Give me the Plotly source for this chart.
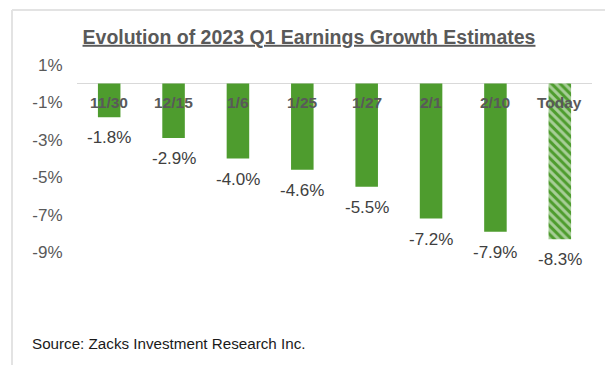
import plotly.graph_objects as go

categories = ["11/30", "12/15", "1/6", "1/25", "1/27", "2/1", "2/10", "Today"]
growth = [-1.8, -2.9, -4.0, -4.6, -5.5, -7.2, -7.9, -8.3]
value_labels = ["-1.8%", "-2.9%", "-4.0%", "-4.6%", "-5.5%", "-7.2%", "-7.9%", "-8.3%"]
tick_vals = [1, -1, -3, -5, -7, -9]
tick_text = ["1%", "-1%", "-3%", "-5%", "-7%", "-9%"]

GREEN = "#4E9C2E"
OFF = 8  # page body margin in the browser
W, H = 613 - OFF, 372 - OFF
# plot area in page pixels: x 77..592, y 46..271
L, R = 77 - OFF, 613 - 592
T, B = 46 - OFF, 372 - 271
PW, PH = 592 - 77, 271 - 46


def px_x(x):
    return (x - 77) / PW


def px_y(y):
    return (271 - y) / PH


shapes_pattern = ["" for _ in categories[:-1]] + ["\\"]

fig = go.Figure()
fig.add_trace(go.Bar(
    x=categories,
    y=growth,
    marker=dict(
        color=[GREEN] * len(categories),
        line=dict(width=0),
        pattern=dict(shape=shapes_pattern, fgcolor=GREEN, bgcolor="white",
                     size=6, solidity=0.5, fillmode="overlay"),
    ),
    hoverinfo="skip",
))

annotations = []
for c, v, t in zip(categories, growth, value_labels):
    annotations.append(dict(x=c, y=v, xref="x", yref="y", text=t, showarrow=False,
                            yanchor="top", yshift=-9,
                            font=dict(family="Liberation Sans, Arial", size=17, color="#404040")))
for c in categories:
    annotations.append(dict(x=c, y=0, xref="x", yref="y", text="<b>" + c + "</b>", showarrow=False,
                            yanchor="top", yshift=-8,
                            font=dict(family="Liberation Sans, Arial", size=15.5, color="#595959")))
annotations.append(dict(x=px_x(30), y=px_y(343), xref="paper", yref="paper",
                        text="Source: Zacks Investment Research Inc.", showarrow=False,
                        xanchor="left", yanchor="middle",
                        font=dict(family="Liberation Sans, Arial", size=15.2, color="#1a1a1a")))

fig.update_layout(
    width=W, height=H,
    margin=dict(l=L, r=R, t=T, b=B),
    paper_bgcolor="white", plot_bgcolor="white",
    showlegend=False,
    bargap=0.65,
    title=dict(text="<b><u>Evolution of 2023 Q1 Earnings Growth Estimates</u></b>",
               x=(309 - OFF) / W, xanchor="center", y=1 - (37 - OFF) / H, yanchor="middle",
               font=dict(family="Liberation Sans, Arial", size=19.5, color="#595959")),
    xaxis=dict(showticklabels=False, showgrid=False, zeroline=False, showline=False, ticks=""),
    yaxis=dict(range=[-10, 2], tickvals=tick_vals, ticktext=tick_text, showgrid=False,
               zeroline=True, zerolinecolor="#D9D9D9", zerolinewidth=1, showline=False,
               ticks="outside", ticklen=10, tickcolor="rgba(0,0,0,0)",
               tickfont=dict(family="Liberation Sans, Arial", size=17, color="#595959")),
    annotations=annotations,
    shapes=[
        dict(type="line", xref="paper", yref="paper", x0=px_x(12), x1=px_x(606),
             y0=px_y(10), y1=px_y(10), line=dict(color="#E3E3E3", width=2)),
        dict(type="line", xref="paper", yref="paper", x0=px_x(12), x1=px_x(12),
             y0=px_y(10), y1=px_y(365), line=dict(color="#E3E3E3", width=2)),
    ],
)

fig.write_html("out.html")
